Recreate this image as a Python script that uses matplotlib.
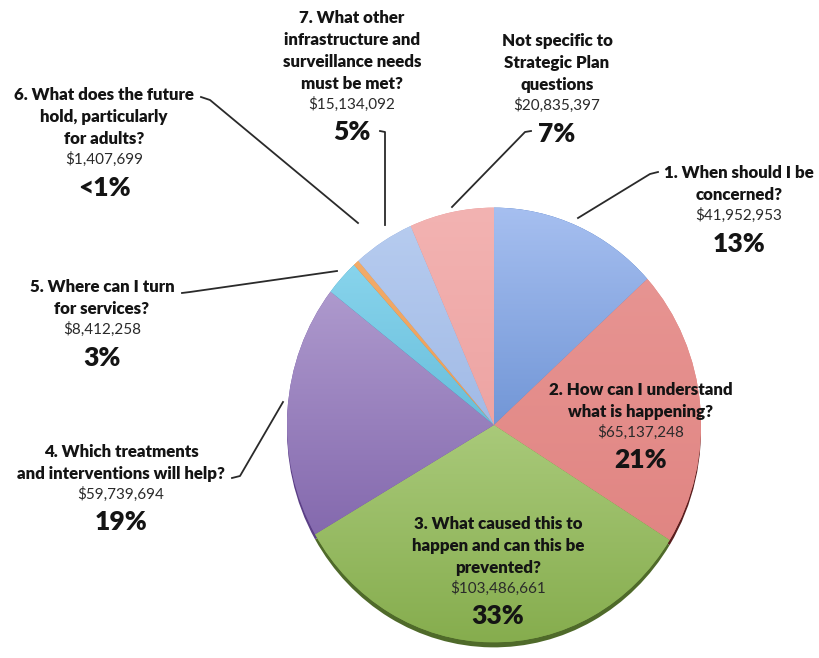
import numpy as np
import matplotlib
matplotlib.use("Agg")
import matplotlib.pyplot as plt
from matplotlib.patches import Wedge
from matplotlib.colors import to_rgb

plt.rcParams["font.family"] = ["Lato", "DejaVu Sans"]

# Funding by Strategic Plan question (clockwise from 12 o'clock)
questions = [
    "1. When should I be\nconcerned?",
    "2. How can I understand\nwhat is happening?",
    "3. What caused this to\nhappen and can this be\nprevented?",
    "4. Which treatments\nand interventions will help?",
    "5. Where can I turn\nfor services?",
    "6. What does the future\nhold, particularly\nfor adults?",
    "7. What other\ninfrastructure and\nsurveillance needs\nmust be met?",
    "Not specific to\nStrategic Plan\nquestions",
]
funding = [41952953, 65137248, 103486661, 59739694,
           8412258, 1407699, 15134092, 20835397]

# Face gradient (top, bottom) and side colour for each slice
top_colors = ["#a6bff0", "#e99896", "#cce6a6", "#bcaad8",
              "#93dcf2", "#f4b070", "#b8cdf0", "#f3b3b2"]
bottom_colors = ["#3e6ebd", "#de807d", "#86ad4e", "#7254a0",
                 "#3d9fc4", "#e58a3a", "#8ba8dc", "#e79594"]
side_colors = ["#8a8f98", "#5a1f1f", "#4f6a2a", "#5b3f86",
               "#1f5f74", "#a0561c", "#5a74a4", "#9a8a8a"]
explode = [0.03, 0.035, 0.022, 0.012, 0.012, 0.012, 0.015, 0.02]

W, H = 819, 658
STRETCH = 1.05  # slight vertical tilt of the pie


def py(y):
    return (H - y) / STRETCH


fig = plt.figure(figsize=(W / 100, H / 100), dpi=100)
ax = fig.add_axes([0, 0, 1, 1])

wedges, _ = ax.pie(funding, explode=explode, startangle=90, counterclock=False,
                   center=(494, py(425)), radius=207,
                   colors=bottom_colors, wedgeprops=dict(linewidth=0))

n = 256
depth = 5 / STRETCH
for i, w in enumerate(wedges):
    cx, cy = w.center
    r = w.r
    # slice thickness drawn below the face
    side = Wedge((cx, cy - depth), r, w.theta1, w.theta2,
                 facecolor=side_colors[i], linewidth=0, zorder=1)
    ax.add_patch(side)
    w.set_zorder(2)
    # vertical shading of the face
    t = np.linspace(0, 1, n)[:, None]
    c0 = np.array(to_rgb(bottom_colors[i]))
    c1 = np.array(to_rgb(top_colors[i]))
    grad = (c0[None, :] * (1 - t) + c1[None, :] * t)[:, None, :]
    im = ax.imshow(grad, extent=[cx - r, cx + r, cy - r, cy + r],
                   origin="lower", aspect="auto", zorder=3,
                   interpolation="bilinear")
    im.set_clip_path(w)

# Label blocks: (centre x, first line y) in pixel coordinates
anchors = [(739, 173), (641, 390), (498, 524), (121, 452),
           (102, 287), (104, 95), (352, 18), (557, 41)]

total = sum(funding)
for i, (q, v) in enumerate(zip(questions, funding)):
    x, y = anchors[i]
    lines = q.split("\n")
    for j, line in enumerate(lines):
        ax.text(x, py(y + 22 * j), line, ha="center", va="center",
                fontsize=12.2, fontweight="heavy", color="#141414", zorder=5)
    ym = y + 22 * (len(lines) - 1) + 20
    ax.text(x, py(ym), f"${v:,}", ha="center", va="center",
            fontsize=11, color="#2a2a2a", zorder=5)
    pct = round(100 * v / total)
    pct_txt = "<1%" if pct < 1 else f"{pct}%"
    ax.text(x, py(ym + 28.5), pct_txt, ha="center", va="center",
            fontsize=19, fontweight="heavy", color="#141414", zorder=5)

# Leader lines from labels to their slices
leaders = [
    [(578, 218), (650, 174), (658, 172)],
    [(452, 207), (525, 132), (531, 131)],
    [(385, 225), (385, 132), (380, 131)],
    [(358, 223), (210, 100), (201, 97)],
    [(337, 271), (190, 292), (182, 293)],
    [(283, 402), (240, 476), (232, 478)],
]
for pts in leaders:
    xs = [p[0] for p in pts]
    ys = [py(p[1]) for p in pts]
    ax.plot(xs, ys, color="#2a2a2a", lw=1.3, zorder=4,
            solid_joinstyle="round")

ax.set_xlim(0, W)
ax.set_ylim(0, H / STRETCH)
ax.set_aspect(STRETCH)
ax.axis("off")

fig.savefig("out.png", dpi=100)
